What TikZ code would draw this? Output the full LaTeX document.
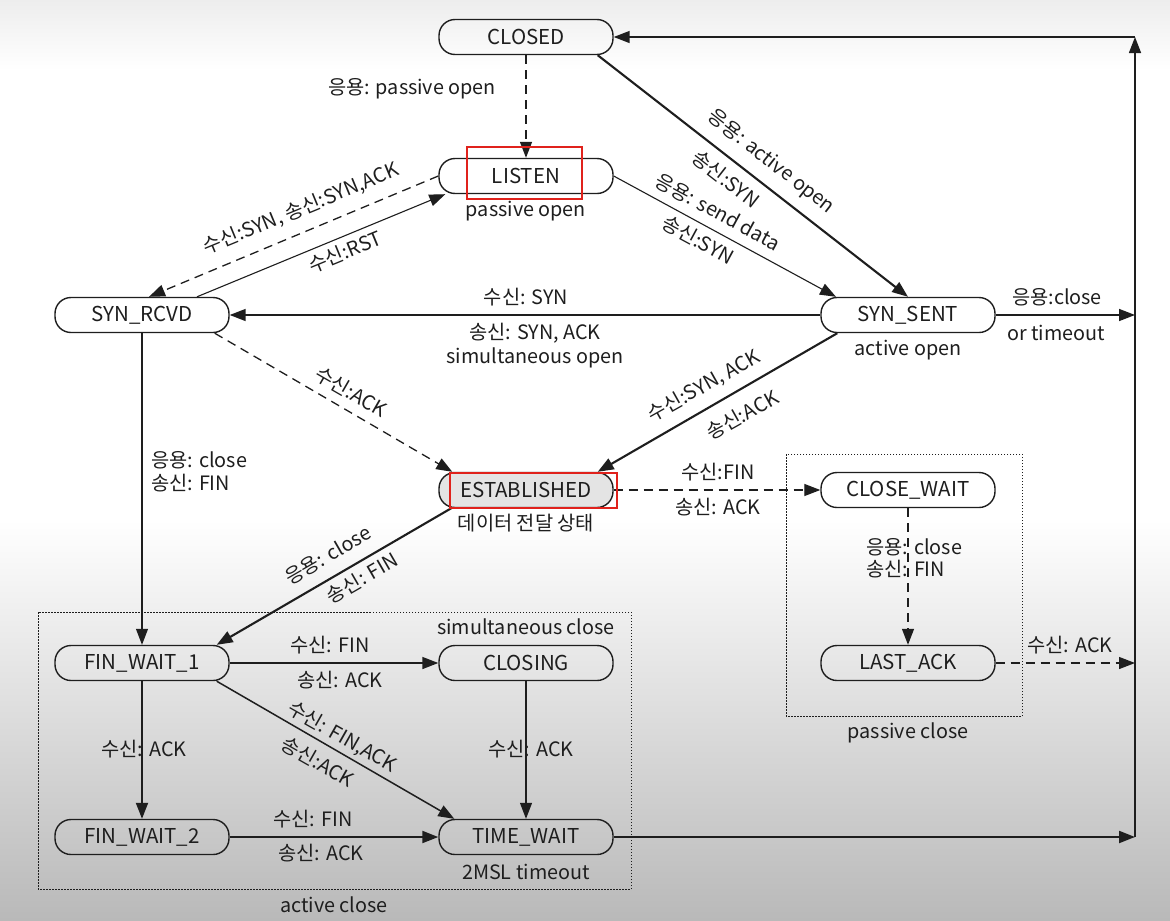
\documentclass[tikz,border=0pt]{standalone}
\usepackage{fontspec}
\setmainfont{Noto Sans CJK KR}
\usetikzlibrary{arrows.meta}
\definecolor{ink}{HTML}{1E1E1E}
\definecolor{estfill}{HTML}{E4E4E4}
\definecolor{markred}{HTML}{E0221C}
\newcommand{\lblfont}{\fontsize{19.8}{23}\selectfont}
\newcommand{\stfont}{\fontsize{20.5}{24}\selectfont}
\begin{document}
\begin{tikzpicture}[x=1pt,y=-1pt,
  st/.style={draw=ink, line width=1.4pt, rounded corners=16pt, minimum width=174pt, minimum height=35pt, inner sep=0pt, font=\stfont, text=ink},
  lbl/.style={font=\lblfont, text=ink, inner sep=0pt},
  tip/.style={-{Triangle[length=16pt,width=12pt]}},
  thn/.style={draw=ink, line width=1.1pt, tip},
  med/.style={draw=ink, line width=1.5pt, tip},
  thk/.style={draw=ink, line width=2.1pt, tip},
  dsh/.style={draw=ink, line width=1.3pt, dash pattern=on 9pt off 6pt, tip},
  grp/.style={draw=ink, line width=1pt, dash pattern=on 1.5pt off 1.5pt},
  redmark/.style={draw=markred, line width=2.6pt}]
% background
\useasboundingbox (0,0) rectangle (1170,921);
\shade[top color=gray!14, bottom color=white] (0,0) rectangle (1170,70);
\fill[white] (0,70) rectangle (1170,520);
\shade[top color=white, bottom color=gray!55] (0,520) rectangle (1170,921);

% group boxes
\draw[grp] (38,612) rectangle (631,889);
\draw[grp] (786,454) rectangle (1022,716);

% states
\node[st] (closed) at (526,37) {CLOSED};
\node[st] (listen) at (526,176) {LISTEN};
\node[st] (synrcvd) at (142,315) {SYN\_RCVD};
\node[st] (synsent) at (908,315) {SYN\_SENT};
\node[st, fill=estfill] (est) at (526,490) {ESTABLISHED};
\node[st] (closewait) at (908,490) {CLOSE\_WAIT};
\node[st] (fw1) at (142,663) {FIN\_WAIT\_1};
\node[st] (closing) at (526,663) {CLOSING};
\node[st] (lastack) at (908,663) {LAST\_ACK};
\node[st] (fw2) at (142,837) {FIN\_WAIT\_2};
\node[st] (timewait) at (526,837) {TIME\_WAIT};

% right return line
\coordinate (rtop) at (1135,37);
\coordinate (r1) at (1135,315);
\coordinate (r2) at (1135,663);
\coordinate (r3) at (1135,837);

% labels (plain)
\node[lbl] at (412,89) {응용: passive open};
\node[lbl] at (526,211) {passive open};
\node[lbl] at (526,297) {수신: SYN};
\node[lbl] at (535,333) {송신: SYN, ACK};
\node[lbl] at (535,358) {simultaneous open};
\node[lbl] at (1057,297) {응용:close};
\node[lbl] at (1056,333) {or timeout};
\node[lbl] at (908,350) {active open};
\node[lbl, anchor=west] at (151,460) {응용: close};
\node[lbl, anchor=west] at (151,483) {송신: FIN};
\node[lbl] at (526,523) {데이터 전달 상태};
\node[lbl] at (718,472) {수신:FIN};
\node[lbl] at (718,507) {송신: ACK};
\node[lbl, anchor=west] at (866,547) {응용: close};
\node[lbl, anchor=west] at (866,569) {송신: FIN};
\node[lbl] at (1070,645) {수신: ACK};
\node[lbl] at (908,733) {passive close};
\node[lbl] at (526,627) {simultaneous close};
\node[lbl] at (330,645) {수신: FIN};
\node[lbl] at (340,680) {송신: ACK};
\node[lbl] at (144,749) {수신: ACK};
\node[lbl] at (531,749) {수신: ACK};
\node[lbl] at (313,819) {수신: FIN};
\node[lbl] at (321,853) {송신: ACK};
\node[lbl] at (526,872) {2MSL timeout};
\node[lbl] at (334,905) {active close};

% labels (sloped)
\node[lbl, rotate=-38] at (771,162) {응용: active open};
\node[lbl, rotate=-38] at (726,179) {송신:SYN};
\node[lbl, rotate=-28.5] at (718,212) {응용: send data};
\node[lbl, rotate=-28.5] at (698,240) {송신:SYN};
\node[lbl, rotate=22.4] at (301,209) {수신:SYN, 송신:SYN,ACK};
\node[lbl, rotate=22.4] at (345,252) {수신:RST};
\node[lbl, rotate=-30] at (351,392) {수신:ACK};
\node[lbl, rotate=29.3] at (704,386) {수신:SYN, ACK};
\node[lbl, rotate=29.3] at (742,415) {송신:ACK};
\node[lbl, rotate=30] at (328,555) {응용: close};
\node[lbl, rotate=30] at (362,578) {송신: FIN};
\node[lbl, rotate=-29.6] at (342,737) {수신: FIN,ACK};
\node[lbl, rotate=-29.6] at (318,762) {송신:ACK};

% transitions
\draw[dsh] (closed) -- (listen);
\draw[thk] ([xshift=-16pt]closed.south east) -- (synsent.north);
\draw[thn] (listen.east) -- ([xshift=-72pt]synsent.north);
\draw[dsh] (listen.west) -- ([xshift=7pt]synrcvd.north);
\draw[thn] ([xshift=55pt]synrcvd.north) -- ([xshift=7pt]listen.south west);
\draw[med] (synsent.west) -- (synrcvd.east);
\draw[med] (synsent.east) -- (r1);
\draw[dsh] ([xshift=-15pt]synrcvd.south east) -- ([xshift=14pt]est.north west);
\draw[thk] ([xshift=17pt]synsent.south west) -- ([xshift=-16pt]est.north east);
\draw[thn] (synrcvd.south) -- (fw1.north);
\draw[thk] ([xshift=13pt]est.south west) -- ([xshift=-13pt]fw1.north east);
\draw[dsh] (est.east) -- (closewait.west);
\draw[dsh] (closewait.south) -- (lastack.north);
\draw[dsh] (lastack.east) -- (r2);
\draw[med] (fw1.east) -- (closing.west);
\draw[med] ([xshift=-13pt]fw1.south east) -- ([xshift=16pt]timewait.north west);
\draw[thk] (fw1.south) -- (fw2.north);
\draw[thn] (closing.south) -- (timewait.north);
\draw[thk] (fw2.east) -- (timewait.west);
\draw[thk] (timewait.east) -- (r3);
\draw[med] (r3) -- (rtop);
\draw[med] (rtop) -- (closed.east);

% highlight marks
\draw[redmark] (467,147) rectangle (582,199);
\draw[redmark] (450,473) rectangle (617,508);
\end{tikzpicture}
\end{document}
